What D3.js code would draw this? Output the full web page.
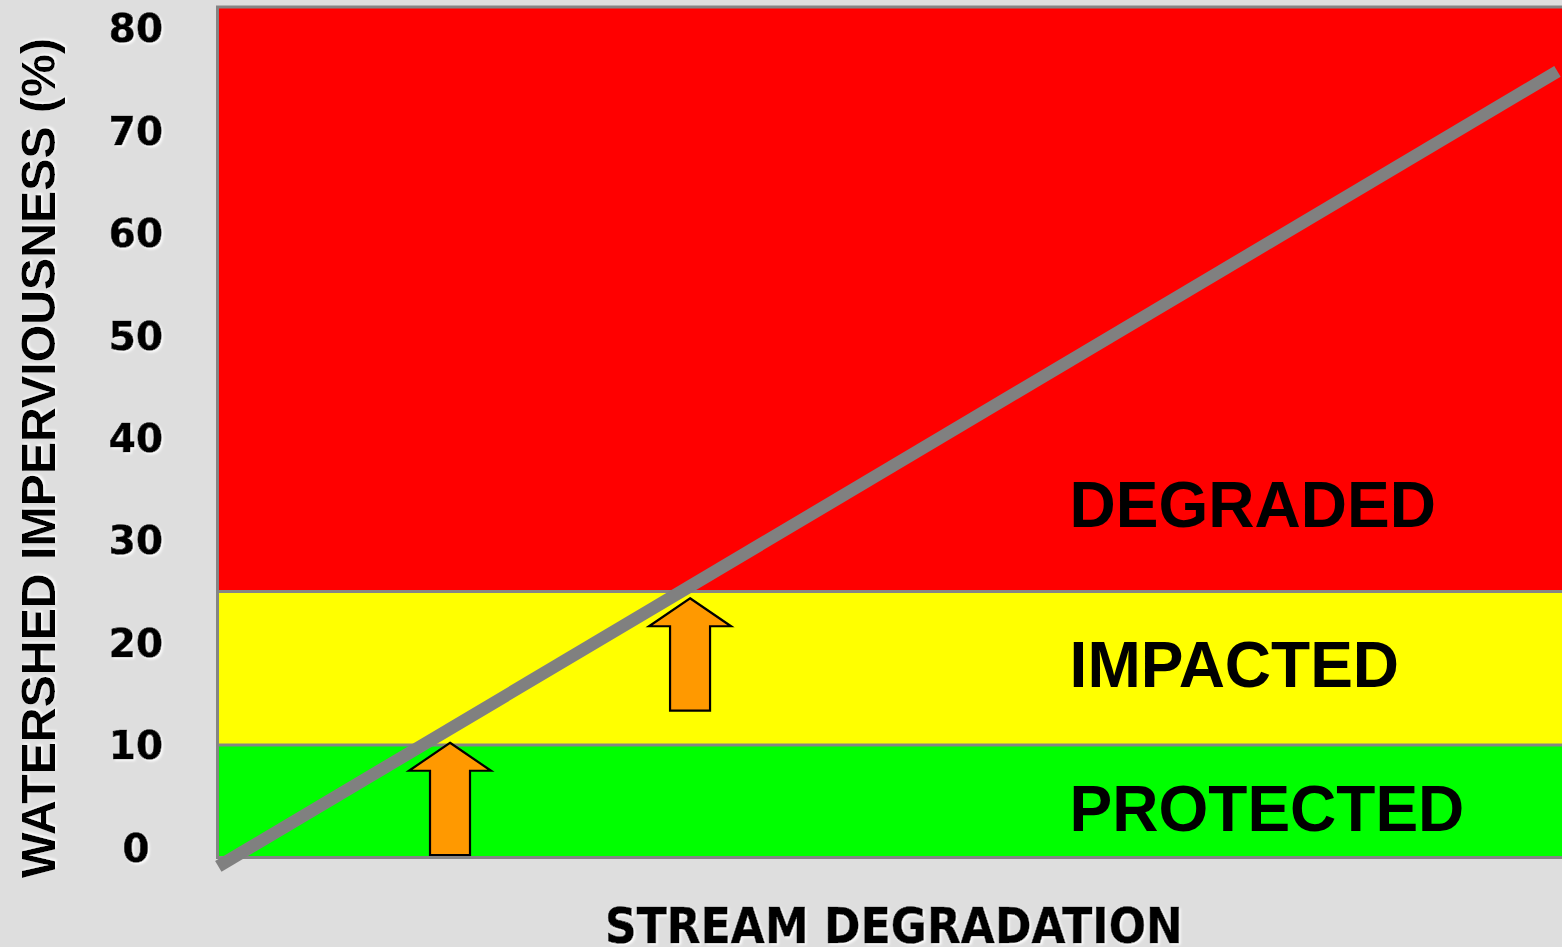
<!DOCTYPE html>
<html>
<head>
<meta charset="utf-8">
<script src="https://cdn.jsdelivr.net/npm/d3@7"></script>
<style>
  html, body { margin: 0; padding: 0; background: #dedede; overflow: hidden; }
  svg { display: block; }
</style>
</head>
<body>
<svg id="chart" width="1562" height="947"></svg>
<script>
// Impervious cover model: stream quality bands vs watershed imperviousness
const tickValues = [0, 10, 20, 30, 40, 50, 60, 70, 80];
const axisFloor = -0.98;   // plot extends slightly below 0
const axisCeil = 82.08;    // and above 80

const bandNames  = ["PROTECTED", "IMPACTED", "DEGRADED"];
const bandLower  = [axisFloor, 10, 25];
const bandUpper  = [10, 25, axisCeil];
const bandColors = ["#00ff00", "#ffff00", "#ff0000"];
const bandLabelX = [63.4, 63.4, 63.4];
const bandLabelY = [1.64, 15.67, 31.33];

// trend line: degradation (x, 0-100) vs imperviousness (%)
const trendX = [0.06, 99.7];
const trendY = [-1.84, 75.8];

// threshold arrows
const arrowX    = [17.3, 35.16];
const arrowFrom = [-0.73, 13.36];
const arrowTo   = [10.23, 24.34];

const svg = d3.select("#chart");
const W = 1562, H = 947;

const x = d3.scaleLinear().domain([0, 100]).range([217.5, 1561.5]);
const y = d3.scaleLinear().domain([0, 80]).range([847.5, 28.3]);

const defs = svg.append("defs");
const glow = defs.append("filter").attr("id", "glow")
  .attr("x", "-10%").attr("y", "-10%").attr("width", "130%").attr("height", "130%");
glow.append("feDropShadow")
  .attr("dx", 1.6).attr("dy", 1.6).attr("stdDeviation", 0.9)
  .attr("flood-color", "#ffffff").attr("flood-opacity", 0.95);

// background
svg.append("rect").attr("width", W).attr("height", H).attr("fill", "#dedede");

// quality bands
const bands = bandNames.map((n, i) => ({ name: n, lo: bandLower[i], hi: bandUpper[i], color: bandColors[i] }));
svg.append("g").selectAll("rect").data(bands).join("rect")
  .attr("x", x(0))
  .attr("width", x(100) - x(0) + 10)
  .attr("y", d => y(d.hi))
  .attr("height", d => y(d.lo) - y(d.hi))
  .attr("fill", d => d.color);

// band boundaries and plot frame
const frame = svg.append("g").attr("stroke", "#858585").attr("stroke-width", 3).attr("fill", "none");
frame.selectAll("line.sep").data([10, 25]).join("line").attr("class", "sep")
  .attr("x1", x(0)).attr("x2", W + 5)
  .attr("y1", d => y(d)).attr("y2", d => y(d));
frame.append("path")
  .attr("d", `M${W + 5},${y(axisCeil)} H${x(0)} V${y(axisFloor)} H${W + 5}`);

// band labels
svg.append("g").selectAll("text").data(bands).join("text")
  .attr("x", (d, i) => x(bandLabelX[i]))
  .attr("y", (d, i) => y(bandLabelY[i]))
  .attr("font-family", "'Liberation Sans', Arial, sans-serif")
  .attr("font-weight", "bold")
  .attr("font-size", 64)
  .attr("fill", "#000")
  .text(d => d.name);

// trend line
const trend = trendX.map((v, i) => [v, trendY[i]]);
svg.append("path")
  .datum(trend)
  .attr("d", d3.line().x(d => x(d[0])).y(d => y(d[1])))
  .attr("stroke", "#808080")
  .attr("stroke-width", 12.5)
  .attr("stroke-linecap", "butt")
  .attr("fill", "none");

// threshold arrows
const headH = 28, headHalf = 41, shaftHalf = 20;
const arrows = arrowX.map((v, i) => ({ x: v, from: arrowFrom[i], to: arrowTo[i] }));
svg.append("g").selectAll("path").data(arrows).join("path")
  .attr("d", d => {
    const cx = x(d.x), ty = y(d.to), by = y(d.from);
    return `M${cx},${ty} L${cx + headHalf},${ty + headH} L${cx + shaftHalf},${ty + headH} ` +
           `L${cx + shaftHalf},${by} L${cx - shaftHalf},${by} L${cx - shaftHalf},${ty + headH} ` +
           `L${cx - headHalf},${ty + headH} Z`;
  })
  .attr("fill", "#ff9900")
  .attr("stroke", "#000")
  .attr("stroke-width", 2.2)
  .attr("stroke-linejoin", "miter");

// y tick labels
svg.append("g").selectAll("text").data(tickValues).join("text")
  .attr("x", 136)
  .attr("y", d => y(d))
  .attr("dy", "0.36em")
  .attr("text-anchor", "middle")
  .attr("font-family", "'DejaVu Sans', Verdana, sans-serif")
  .attr("font-weight", "bold")
  .attr("font-size", 39)
  .attr("fill", "#000")
  .attr("stroke", "#000")
  .attr("stroke-width", 0.7)
  .attr("filter", "url(#glow)")
  .text(d => d);

// axis titles
svg.append("text")
  .attr("transform", "translate(55,458) rotate(-90)")
  .attr("text-anchor", "middle")
  .attr("font-family", "'Liberation Sans', Arial, sans-serif")
  .attr("font-weight", "bold")
  .attr("font-size", 48)
  .attr("textLength", 840)
  .attr("lengthAdjust", "spacingAndGlyphs")
  .attr("fill", "#000")
  .attr("filter", "url(#glow)")
  .text("WATERSHED IMPERVIOUSNESS (%)");

svg.append("text")
  .attr("x", 605)
  .attr("y", 943)
  .attr("font-family", "'DejaVu Sans', Verdana, sans-serif")
  .attr("font-weight", "bold")
  .attr("font-size", 50)
  .attr("textLength", 578)
  .attr("lengthAdjust", "spacingAndGlyphs")
  .attr("fill", "#000")
  .attr("stroke", "#000")
  .attr("stroke-width", 0.6)
  .attr("filter", "url(#glow)")
  .text("STREAM DEGRADATION");
</script>
</body>
</html>
